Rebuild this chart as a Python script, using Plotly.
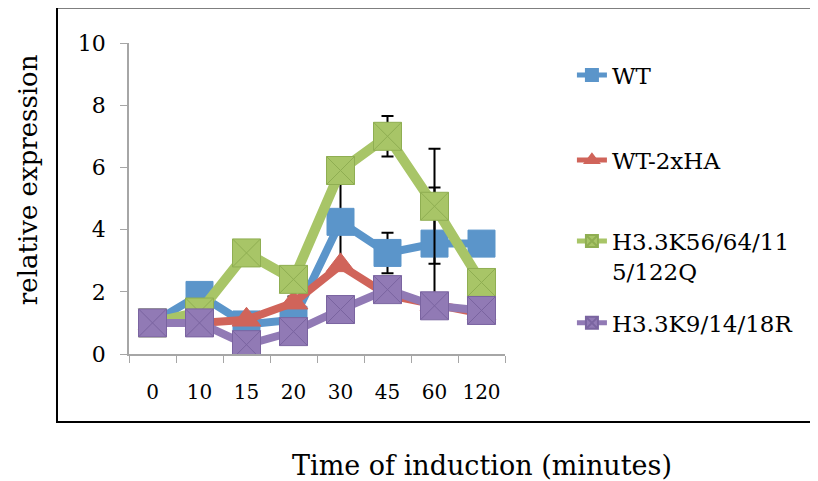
import plotly.graph_objects as go

times = ["0", "10", "15", "20", "30", "45", "60", "120"]

wt = [1.0, 1.9, 0.95, 1.1, 4.25, 3.25, 3.55, 3.55]
wt_err = [0, 0, 0, 0.75, 1.35, 0.65, 1.8, 0]

wt2xha = [1.0, 1.0, 1.1, 1.65, 2.85, 1.9, 1.6, 1.3]
wt2xha_err = [0, 0, 0, 0, 0, 0, 0, 0]

k56q = [1.0, 1.35, 3.25, 2.4, 5.9, 7.0, 4.75, 2.3]
k56q_err = [0, 0, 0, 0, 0, 0.65, 1.85, 0]

k9r = [1.0, 1.0, 0.3, 0.72, 1.43, 2.07, 1.55, 1.4]
k9r_err = [0, 0, 0, 0, 0, 0, 0, 0]

names = ["WT", "WT-2xHA", "H3.3K56/64/11<br>5/122Q", "H3.3K9/14/18R"]
colors = ["#5B95CA", "#D0645A", "#A8C567", "#917AB5"]
edge = ["#5B95CA", "#D0645A", "#8FAE52", "#7A64A0"]
symbols = ["square", "triangle-up", "square-x", "square-x"]
sizes = [27, 25, 28, 28]
widths = [8, 8, 10, 8]
series = [wt, wt2xha, k56q, k9r]
errs = [wt_err, wt2xha_err, k56q_err, k9r_err]
legend_ids = ["legend", "legend2", "legend3", "legend4"]
legend_y = [0.897, 0.624, 0.315, 0.10]

FONT = "DejaVu Serif"

fig = go.Figure()
for i in range(4):
    fig.add_trace(go.Scatter(
        x=times, y=series[i], name=names[i], mode="lines+markers",
        legend=legend_ids[i],
        line=dict(color=colors[i], width=widths[i]),
        marker=dict(symbol=symbols[i], size=sizes[i], color=colors[i],
                    line=dict(color=edge[i], width=1)),
        error_y=dict(type="data", array=errs[i], visible=True,
                     color="black", thickness=2, width=6),
    ))

fig.add_shape(type="rect", xref="paper", yref="paper",
              x0=-0.1915, x1=1.85, y0=-0.2186, y1=1.114,
              line=dict(color="black", width=2), layer="below")

fig.add_annotation(text="relative expression", xref="paper", yref="paper",
                   x=-0.2686, y=0.559, textangle=-90, showarrow=False,
                   xanchor="center", yanchor="middle",
                   font=dict(family=FONT, size=26, color="black"))
fig.add_annotation(text="Time of induction (minutes)", xref="paper", yref="paper",
                   x=0.939, y=-0.357, showarrow=False,
                   xanchor="center", yanchor="middle",
                   font=dict(family=FONT, size=27, color="black"))

legend_common = dict(x=1.178, xanchor="left", yanchor="middle", valign="top",
                     font=dict(family=FONT, size=23, color="black"),
                     itemsizing="constant", bgcolor="rgba(0,0,0,0)")

fig.update_layout(
    width=818, height=481,
    margin=dict(l=121, r=321, t=35, b=135, autoexpand=False),
    paper_bgcolor="white", plot_bgcolor="white",
    font=dict(family=FONT, color="black"),
    showlegend=True,
    legend=dict(y=legend_y[0], **legend_common),
    legend2=dict(y=legend_y[1], **legend_common),
    legend3=dict(y=legend_y[2], **legend_common),
    legend4=dict(y=legend_y[3], **legend_common),
    xaxis=dict(type="category", range=[-0.5, 7.5], showline=True,
               linecolor="#A6A6A6", linewidth=1.5,
               ticks="outside", ticklen=7, tickcolor="#A6A6A6", tickson="boundaries",
               showgrid=False, zeroline=False, ticklabelstandoff=19, tickangle=0,
               automargin=False,
               tickfont=dict(family=FONT, size=20, color="black")),
    yaxis=dict(range=[0, 10], dtick=2, showline=True, linecolor="#A6A6A6", linewidth=1.5,
               ticks="outside", ticklen=7, tickcolor="#A6A6A6", automargin=False,
               showgrid=False, zeroline=False, ticklabelstandoff=10,
               tickfont=dict(family=FONT, size=22, color="black")),
)

fig.write_html("out.html")
